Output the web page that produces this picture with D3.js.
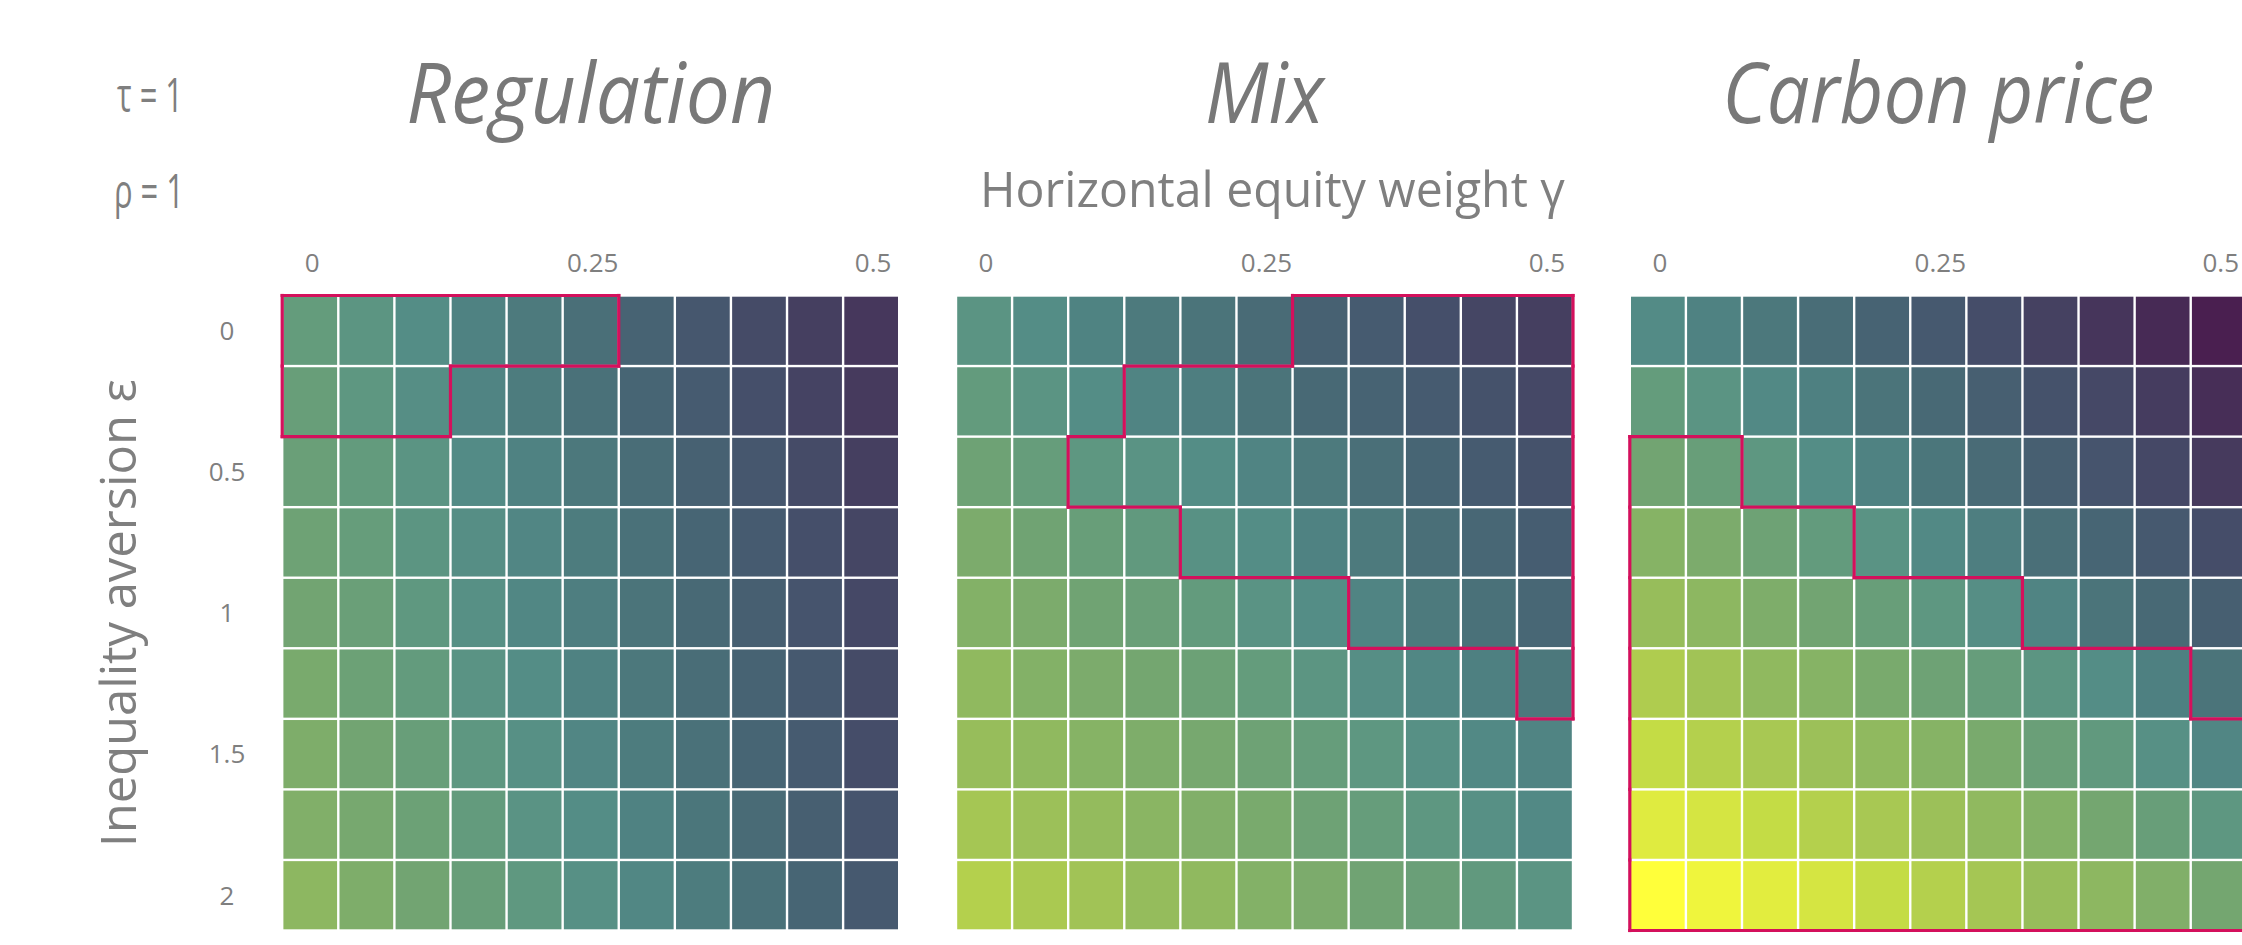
<!DOCTYPE html>
<html>
<head>
<meta charset="utf-8">
<script src="https://cdn.jsdelivr.net/npm/d3@7"></script>
<style>
  html, body { margin: 0; padding: 0; background: #fff; overflow: hidden; }
  text { font-family: "Open Sans", "Noto Sans", sans-serif; fill: #7f7f7f; }
</style>
</head>
<body>
<div id="chart"></div>
<script>
// Welfare heatmaps per policy, over horizontal equity weight γ (columns)
// and inequality aversion ε (rows). Outline = policy that is best there.

const GAMMA   = [0, 0.05, 0.1, 0.15, 0.2, 0.25, 0.3, 0.35, 0.4, 0.45, 0.5];
const EPSILON = [0, 0.25, 0.5, 0.75, 1, 1.25, 1.5, 1.75, 2];
const GAMMA_TICKS   = [0, 0.25, 0.5];
const EPSILON_TICKS = [0, 0.5, 1, 1.5, 2];

const POLICIES = ["Regulation", "Mix", "Carbon price"];

// relative welfare score, 0 = darkest, 1 = brightest
const VALUES_REGULATION = [
  [0.62, 0.57, 0.51, 0.45, 0.41, 0.36, 0.30, 0.24, 0.19, 0.14, 0.11],
  [0.64, 0.58, 0.52, 0.46, 0.42, 0.37, 0.31, 0.26, 0.21, 0.16, 0.12],
  [0.65, 0.61, 0.56, 0.50, 0.45, 0.40, 0.35, 0.29, 0.24, 0.19, 0.14],
  [0.67, 0.63, 0.57, 0.52, 0.47, 0.42, 0.37, 0.31, 0.26, 0.21, 0.17],
  [0.69, 0.65, 0.59, 0.53, 0.48, 0.43, 0.38, 0.33, 0.28, 0.23, 0.18],
  [0.72, 0.66, 0.61, 0.55, 0.51, 0.45, 0.40, 0.35, 0.30, 0.25, 0.19],
  [0.74, 0.69, 0.64, 0.58, 0.53, 0.47, 0.42, 0.37, 0.31, 0.26, 0.20],
  [0.75, 0.71, 0.66, 0.61, 0.55, 0.51, 0.45, 0.39, 0.34, 0.28, 0.23],
  [0.79, 0.74, 0.69, 0.64, 0.59, 0.53, 0.48, 0.42, 0.37, 0.31, 0.25]
];

const VALUES_MIX = [
  [0.56, 0.51, 0.455, 0.41, 0.38, 0.34, 0.29, 0.26, 0.21, 0.17, 0.14],
  [0.61, 0.56, 0.51, 0.46, 0.43, 0.38, 0.33, 0.30, 0.26, 0.22, 0.18],
  [0.67, 0.63, 0.58, 0.55, 0.51, 0.46, 0.41, 0.36, 0.31, 0.26, 0.22],
  [0.73, 0.68, 0.64, 0.60, 0.54, 0.51, 0.45, 0.41, 0.36, 0.32, 0.27],
  [0.76, 0.73, 0.68, 0.65, 0.61, 0.55, 0.51, 0.46, 0.41, 0.37, 0.32],
  [0.80, 0.76, 0.73, 0.70, 0.66, 0.62, 0.57, 0.52, 0.48, 0.44, 0.40],
  [0.82, 0.80, 0.77, 0.74, 0.71, 0.67, 0.63, 0.58, 0.53, 0.49, 0.46],
  [0.85, 0.83, 0.81, 0.78, 0.75, 0.72, 0.67, 0.63, 0.58, 0.53, 0.49],
  [0.88, 0.86, 0.84, 0.815, 0.80, 0.76, 0.73, 0.68, 0.65, 0.60, 0.56]
];

const VALUES_CARBON = [
  [0.50, 0.45, 0.40, 0.35, 0.30, 0.25, 0.20, 0.15, 0.10, 0.05, 0.00],
  [0.62, 0.56, 0.49, 0.44, 0.38, 0.33, 0.28, 0.22, 0.18, 0.13, 0.07],
  [0.69, 0.64, 0.58, 0.51, 0.45, 0.39, 0.34, 0.28, 0.23, 0.18, 0.12],
  [0.77, 0.73, 0.67, 0.61, 0.55, 0.49, 0.43, 0.36, 0.31, 0.25, 0.20],
  [0.82, 0.79, 0.74, 0.69, 0.64, 0.58, 0.52, 0.46, 0.38, 0.33, 0.28],
  [0.87, 0.84, 0.80, 0.77, 0.72, 0.67, 0.63, 0.57, 0.51, 0.44, 0.38],
  [0.91, 0.88, 0.855, 0.83, 0.80, 0.77, 0.72, 0.65, 0.60, 0.53, 0.47],
  [0.95, 0.935, 0.91, 0.88, 0.855, 0.83, 0.80, 0.76, 0.70, 0.64, 0.58],
  [1.00, 0.975, 0.955, 0.935, 0.91, 0.88, 0.85, 0.82, 0.79, 0.75, 0.70]
];

const VALUES = [VALUES_REGULATION, VALUES_MIX, VALUES_CARBON];

// index into POLICIES of the best policy for each (ε, γ) cell
const BEST_POLICY = [
  [0, 0, 0, 0, 0, 0, 1, 1, 1, 1, 1],
  [0, 0, 0, 1, 1, 1, 1, 1, 1, 1, 1],
  [2, 2, 1, 1, 1, 1, 1, 1, 1, 1, 1],
  [2, 2, 2, 2, 1, 1, 1, 1, 1, 1, 1],
  [2, 2, 2, 2, 2, 2, 2, 1, 1, 1, 1],
  [2, 2, 2, 2, 2, 2, 2, 2, 2, 2, 1],
  [2, 2, 2, 2, 2, 2, 2, 2, 2, 2, 2],
  [2, 2, 2, 2, 2, 2, 2, 2, 2, 2, 2],
  [2, 2, 2, 2, 2, 2, 2, 2, 2, 2, 2]
];

// ── Layout ───────────────────────────────────────────────────────────────────

const W = 2242, H = 945;
const panelLeft = 282.2, panelW = 617, panelGap = 56.8;
const gridTop = 295.5, gridBottom = 930.5;
const gap = 1.2;           // half of the white line between cells
const OUTLINE = "#d4105c";

const TITLE_WIDTH = [369, 119, 432];

const color = d3.scaleLinear()
  .domain([0, 0.05, 0.1, 0.15, 0.2, 0.25, 0.3, 0.35, 0.4, 0.45, 0.5, 0.56, 0.62, 0.69, 0.76, 0.82, 0.87, 0.91, 0.95, 1])
  .range(["#4a1f50", "#472a55", "#46355b", "#454161", "#454d69", "#46596f", "#476373",
          "#496d77", "#4c787c", "#4f8282", "#538b86", "#5b9483", "#649c7c", "#72a472",
          "#83b167", "#97bd5b", "#afcc4f", "#c4dc45", "#dfeb40", "#ffff3a"])
  .interpolate(d3.interpolateRgb)
  .clamp(true);

const svg = d3.select("#chart").append("svg")
  .attr("width", W)
  .attr("height", H)
  .style("display", "block");

const yScale = d3.scaleBand()
  .domain(EPSILON)
  .range([gridTop, gridBottom]);

// ── Panels ───────────────────────────────────────────────────────────────────

POLICIES.forEach((policy, p) => {
  const x0 = panelLeft + p * (panelW + panelGap);
  const xScale = d3.scaleBand()
    .domain(GAMMA)
    .range([x0, x0 + panelW]);

  const g = svg.append("g");

  const cells = [];
  EPSILON.forEach((e, r) => GAMMA.forEach((gm, c) => {
    cells.push({ e, gm, r, c, v: VALUES[p][r][c] });
  }));

  g.selectAll("rect")
    .data(cells)
    .join("rect")
      .attr("x", d => xScale(d.gm) + gap)
      .attr("y", d => yScale(d.e) + gap)
      .attr("width", xScale.bandwidth() - 2 * gap)
      .attr("height", yScale.bandwidth() - 2 * gap)
      .attr("fill", d => color(d.v));

  // outline of the cells where this policy is best
  const isBest = (r, c) =>
    r >= 0 && r < EPSILON.length && c >= 0 && c < GAMMA.length && BEST_POLICY[r][c] === p;
  const segs = [];
  cells.filter(d => isBest(d.r, d.c)).forEach(d => {
    const xa = xScale(d.gm), xb = xa + xScale.bandwidth();
    const ya = yScale(d.e),  yb = ya + yScale.bandwidth();
    if (!isBest(d.r - 1, d.c)) segs.push([xa, ya, xb, ya]);
    if (!isBest(d.r + 1, d.c)) segs.push([xa, yb, xb, yb]);
    if (!isBest(d.r, d.c - 1)) segs.push([xa, ya, xa, yb]);
    if (!isBest(d.r, d.c + 1)) segs.push([xb, ya, xb, yb]);
  });
  g.append("g")
    .selectAll("line")
    .data(segs)
    .join("line")
      .attr("x1", d => d[0]).attr("y1", d => d[1])
      .attr("x2", d => d[2]).attr("y2", d => d[3])
      .attr("stroke", OUTLINE)
      .attr("stroke-width", 3.2)
      .attr("stroke-linecap", "square");

  // γ tick labels
  g.append("g")
    .selectAll("text")
    .data(GAMMA_TICKS)
    .join("text")
      .attr("x", d => xScale(d) + xScale.bandwidth() / 2 + 2)
      .attr("y", 272)
      .attr("text-anchor", "middle")
      .style("font-size", "26px")
      .text(d => d);

  // policy title
  svg.append("text")
    .attr("x", x0 + panelW / 2)
    .attr("y", 123)
    .attr("text-anchor", "middle")
    .attr("textLength", TITLE_WIDTH[p])
    .attr("lengthAdjust", "spacingAndGlyphs")
    .style("font-size", "84px")
    .style("font-style", "italic")
    .style("fill", "#787878")
    .text(policy);

  if (p === 1) {
    svg.append("text")
      .attr("x", x0 + panelW / 2 + 8)
      .attr("y", 207)
      .attr("text-anchor", "middle")
      .attr("textLength", 585)
      .attr("lengthAdjust", "spacingAndGlyphs")
      .style("font-size", "49px")
      .text("Horizontal equity weight γ");
  }
});

// ── ε axis ───────────────────────────────────────────────────────────────────

svg.append("g")
  .selectAll("text")
  .data(EPSILON_TICKS)
  .join("text")
    .attr("x", 227)
    .attr("y", d => yScale(d) + yScale.bandwidth() / 2)
    .attr("dy", "0.36em")
    .attr("text-anchor", "middle")
    .style("font-size", "26px")
    .text(d => d);

svg.append("text")
  .attr("transform", `translate(136,${(gridTop + gridBottom) / 2}) rotate(-90)`)
  .attr("text-anchor", "middle")
  .attr("textLength", 468)
  .attr("lengthAdjust", "spacingAndGlyphs")
  .style("font-size", "49px")
  .text("Inequality aversion ε");

// ── Parameter notes ──────────────────────────────────────────────────────────

svg.append("text")
  .attr("x", 117).attr("y", 112)
  .attr("textLength", 66)
  .attr("lengthAdjust", "spacingAndGlyphs")
  .style("font-size", "48px")
  .text("τ = 1");

svg.append("text")
  .attr("x", 114).attr("y", 208)
  .attr("textLength", 70)
  .attr("lengthAdjust", "spacingAndGlyphs")
  .style("font-size", "48px")
  .text("ρ = 1");
</script>
</body>
</html>
